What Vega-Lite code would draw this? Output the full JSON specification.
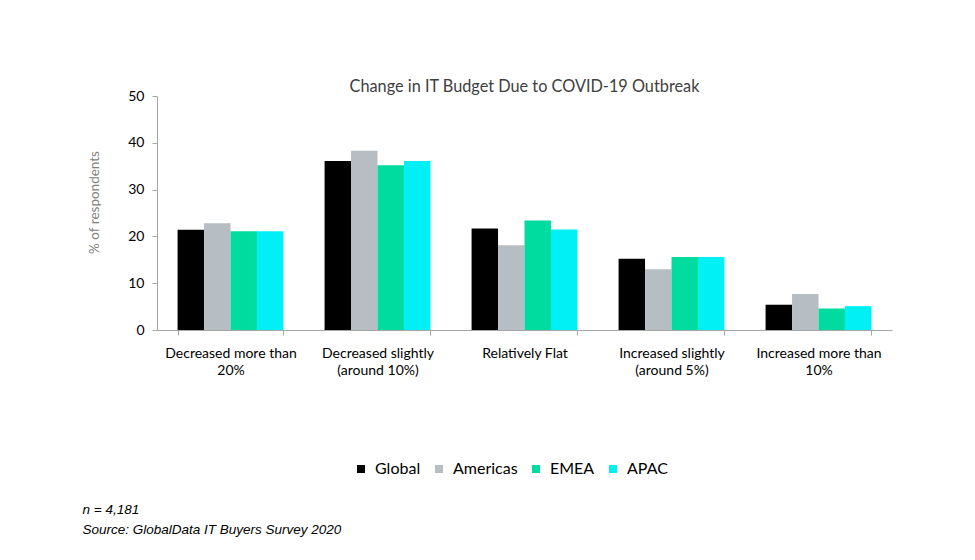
{
  "$schema": "https://vega.github.io/schema/vega-lite/v6.json",
  "width": 735,
  "height": 234,
  "autosize": "none",
  "padding": {"left": 157, "top": 96, "right": 83, "bottom": 230},
  "background": "white",
  "config": {
    "font": "Lato",
    "view": {"stroke": null}
  },
  "title": {
    "text": "Change in IT Budget Due to COVID-19 Outbreak",
    "fontSize": 16.3,
    "fontWeight": "normal",
    "color": "#404040",
    "anchor": "middle",
    "offset": -6
  },
  "data": {
    "values": [
      {"category": "Decreased more than 20%", "region": "Global", "value": 21.4},
      {"category": "Decreased more than 20%", "region": "Americas", "value": 22.8},
      {"category": "Decreased more than 20%", "region": "EMEA", "value": 21.1},
      {"category": "Decreased more than 20%", "region": "APAC", "value": 21.1},
      {"category": "Decreased slightly (around 10%)", "region": "Global", "value": 36.1},
      {"category": "Decreased slightly (around 10%)", "region": "Americas", "value": 38.3},
      {"category": "Decreased slightly (around 10%)", "region": "EMEA", "value": 35.2},
      {"category": "Decreased slightly (around 10%)", "region": "APAC", "value": 36.1},
      {"category": "Relatively Flat", "region": "Global", "value": 21.7},
      {"category": "Relatively Flat", "region": "Americas", "value": 18.1},
      {"category": "Relatively Flat", "region": "EMEA", "value": 23.4},
      {"category": "Relatively Flat", "region": "APAC", "value": 21.5},
      {"category": "Increased slightly (around 5%)", "region": "Global", "value": 15.2},
      {"category": "Increased slightly (around 5%)", "region": "Americas", "value": 13.0},
      {"category": "Increased slightly (around 5%)", "region": "EMEA", "value": 15.6},
      {"category": "Increased slightly (around 5%)", "region": "APAC", "value": 15.6},
      {"category": "Increased more than 10%", "region": "Global", "value": 5.4},
      {"category": "Increased more than 10%", "region": "Americas", "value": 7.7},
      {"category": "Increased more than 10%", "region": "EMEA", "value": 4.6},
      {"category": "Increased more than 10%", "region": "APAC", "value": 5.1}
    ]
  },
  "mark": {"type": "bar"},
  "encoding": {
    "x": {
      "field": "category",
      "type": "nominal",
      "sort": null,
      "scale": {"paddingInner": 0.28, "paddingOuter": 0.14},
      "axis": {
        "labelAngle": 0,
        "labelFontSize": 14,
        "labelColor": "#000000",
        "labelPadding": 11,
        "labelLineHeight": 17,
        "labelExpr": "datum.value == 'Decreased more than 20%' ? ['Decreased more than', '20%'] : datum.value == 'Decreased slightly (around 10%)' ? ['Decreased slightly', '(around 10%)'] : datum.value == 'Increased slightly (around 5%)' ? ['Increased slightly', '(around 5%)'] : datum.value == 'Increased more than 10%' ? ['Increased more than', '10%'] : datum.value",
        "domainColor": "#a6a6a6",
        "tickColor": "#a6a6a6",
        "tickBand": "extent",
        "tickSize": 5,
        "title": ["n = 4,181", "Source:  GlobalData IT Buyers Survey 2020"],
        "titleFont": "Liberation Sans",
        "titleFontSize": 13.5,
        "titleFontStyle": "italic",
        "titleFontWeight": "normal",
        "titleColor": "#000000",
        "titleAnchor": "start",
        "titleAlign": "left",
        "titleBaseline": "middle",
        "titleLineHeight": 20,
        "titleX": -75,
        "titleY": 179
      }
    },
    "xOffset": {"field": "region", "type": "nominal", "sort": ["Global", "Americas", "EMEA", "APAC"], "scale": {"paddingInner": 0, "paddingOuter": 0}},
    "y": {
      "field": "value",
      "type": "quantitative",
      "scale": {"domain": [0, 50]},
      "axis": {
        "values": [0, 10, 20, 30, 40, 50],
        "grid": false,
        "labelFontSize": 14,
        "labelColor": "#000000",
        "labelPadding": 8,
        "domainColor": "#a6a6a6",
        "tickColor": "#a6a6a6",
        "tickSize": 5,
        "title": "% of respondents",
        "titleFontSize": 13.5,
        "titleFontWeight": "normal",
        "titleColor": "#7f7f7f",
        "titlePadding": 26,
        "titleY": 106
      }
    },
    "color": {
      "field": "region",
      "type": "nominal",
      "sort": ["Global", "Americas", "EMEA", "APAC"],
      "scale": {
        "domain": ["Global", "Americas", "EMEA", "APAC"],
        "range": ["#000000", "#b6bdc3", "#00dc9f", "#00f0f5"]
      },
      "legend": {
        "title": null,
        "orient": "none",
        "direction": "horizontal",
        "legendX": 196,
        "legendY": 365,
        "symbolType": "square",
        "symbolSize": 64,
        "symbolStrokeWidth": 0,
        "labelFontSize": 16,
        "labelColor": "#000000",
        "labelOffset": 6,
        "columnPadding": 10
      }
    }
  }
}
